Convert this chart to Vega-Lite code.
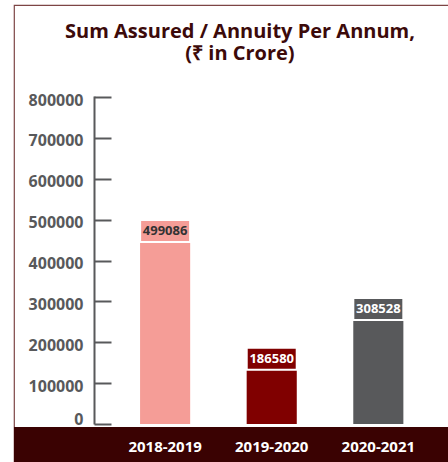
{
  "$schema": "https://vega.github.io/schema/vega-lite/v6.json",
  "width": 436,
  "height": 457,
  "autosize": {"type": "none"},
  "padding": {"left": 14, "top": 5, "right": 0, "bottom": 0},
  "background": "white",
  "view": {"stroke": "#7d4545", "strokeWidth": 1.2},
  "title": {
    "text": ["Sum Assured / Annuity Per Annum,", "(₹ in Crore)"],
    "font": "Open Sans",
    "fontSize": 20,
    "fontWeight": "bold",
    "color": "#3c0a0a",
    "anchor": "middle",
    "frame": "group",
    "lineHeight": 22,
    "offset": -59,
    "dx": 8
  },
  "data": {
    "values": [
      {"year": "2018-2019", "value": 499086},
      {"year": "2019-2020", "value": 186580},
      {"year": "2020-2021", "value": 308528}
    ]
  },
  "encoding": {
    "x": {
      "field": "year",
      "type": "nominal",
      "sort": null,
      "scale": {"paddingInner": 0.53, "paddingOuter": 0.81, "align": 0.73},
      "axis": {
        "title": null,
        "orient": "bottom",
        "offset": -18,
        "zindex": 2,
        "domain": false,
        "ticks": false,
        "labelAngle": 0,
        "labelColor": "white",
        "labelFont": "Open Sans",
        "labelFontSize": 15,
        "labelFontWeight": "bold",
        "labelBaseline": "middle",
        "labelPadding": 2
      }
    },
    "y": {
      "field": "value",
      "type": "quantitative",
      "scale": {"domain": [-92966, 1025080], "zero": false, "nice": false},
      "axis": {
        "title": null,
        "offset": -80,
        "zindex": 1,
        "values": [0, 100000, 200000, 300000, 400000, 500000, 600000, 700000, 800000],
        "format": "d",
        "grid": false,
        "domainColor": "#58595b",
        "domainWidth": 2,
        "domainDash": [0, 38, 328, 2000],
        "tickColor": "#58595b",
        "tickWidth": 2,
        "tickSize": -17,
        "labelPadding": 28,
        "labelOffset": {"condition": {"test": "datum.value === 0", "value": -5}, "value": 3},
        "labelColor": "#58595b",
        "labelFont": "Open Sans",
        "labelFontSize": 16,
        "labelFontWeight": "bold"
      }
    }
  },
  "layer": [
    {
      "mark": {"type": "bar"},
      "encoding": {
        "y2": {"datum": 0},
        "color": {
          "field": "year",
          "type": "nominal",
          "scale": {"domain": ["2018-2019", "2019-2020", "2020-2021"], "range": ["#f59d97", "#800000", "#58595b"]},
          "legend": null
        }
      }
    },
    {
      "mark": {"type": "point", "shape": "M-1,-0.44H1V0.44H-1Z", "size": 2500, "filled": true, "opacity": 1, "stroke": "white", "strokeWidth": 2, "yOffset": 11},
      "encoding": {
        "color": {"field": "year", "type": "nominal", "legend": null}
      }
    },
    {
      "mark": {"type": "text", "yOffset": 11, "font": "Open Sans", "fontSize": 13, "fontWeight": "bold", "baseline": "middle"},
      "encoding": {
        "text": {"field": "value", "type": "quantitative", "format": "d"},
        "fill": {
          "field": "year",
          "type": "nominal",
          "scale": {"domain": ["2018-2019", "2019-2020", "2020-2021"], "range": ["#333333", "#ffffff", "#ffffff"]},
          "legend": null
        }
      }
    },
    {
      "data": {"values": [{"band": "base", "bottom": -92966, "top": -7340}]},
      "mark": {"type": "rect", "color": "#3a0202"},
      "encoding": {
        "x": null,
        "y": {"field": "bottom", "type": "quantitative"},
        "y2": {"field": "top"}
      }
    }
  ]
}
